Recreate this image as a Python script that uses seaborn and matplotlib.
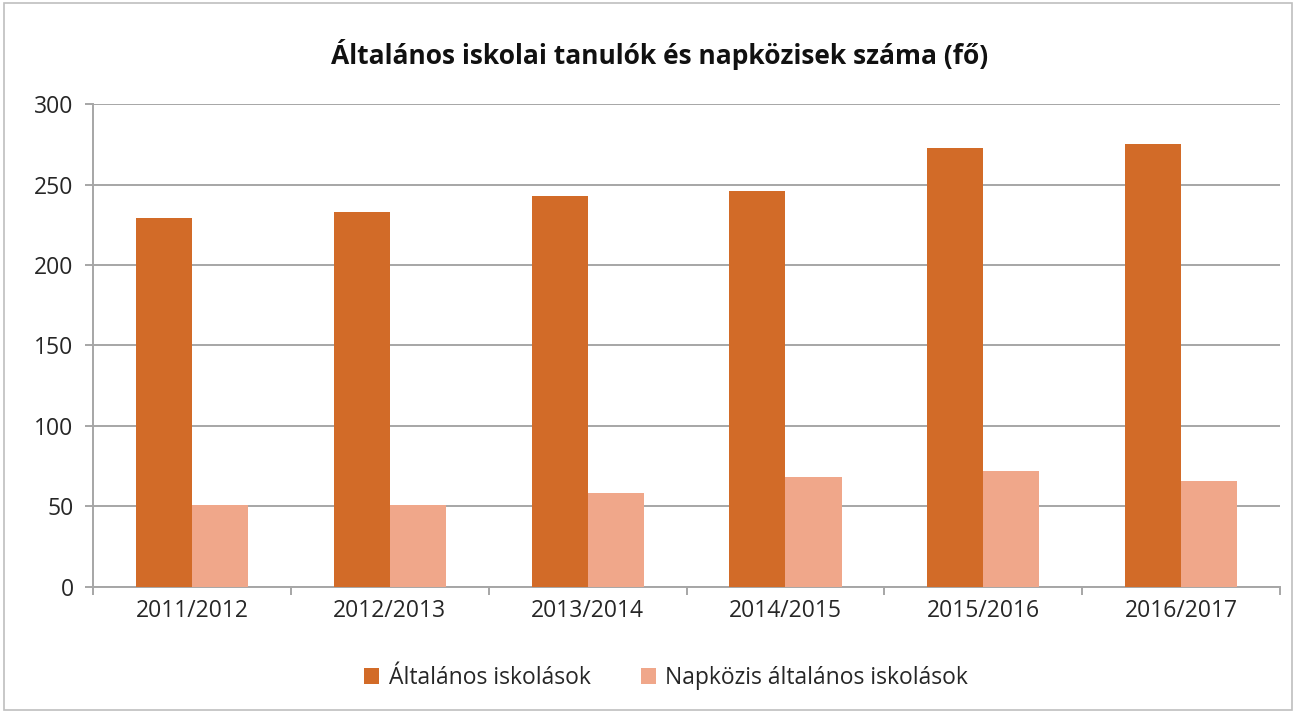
import pandas as pd
import seaborn as sns
import matplotlib.pyplot as plt
from matplotlib.patches import Rectangle

# Data
evek = ["2011/2012", "2012/2013", "2013/2014", "2014/2015", "2015/2016", "2016/2017"]
altalanos = [229, 233, 243, 246, 273, 275]
napkozis = [51, 51, 58, 68, 72, 66]
sorozatok = ["Általános iskolások", "Napközis általános iskolások"]

df = pd.DataFrame({
    "ev": evek * 2,
    "fo": altalanos + napkozis,
    "sorozat": [sorozatok[0]] * len(evek) + [sorozatok[1]] * len(evek),
})

sns.set_theme(style="white")
plt.rcParams["font.family"] = ["Open Sans", "DejaVu Sans"]

fig = plt.figure(figsize=(12.96, 7.13), dpi=100)
ax = fig.add_axes([0.0718, 0.177, 0.9159, 0.677])

colors = ["#D26B28", "#F0A78A"]
sns.barplot(data=df, x="ev", y="fo", hue="sorozat", palette=colors,
            width=0.567, saturation=1, ax=ax, zorder=3, linewidth=0)

ax.set_ylim(0, 300)
ax.set_yticks(range(0, 301, 50))
ax.set_xlim(-0.5, len(evek) - 0.5)
ax.yaxis.grid(True, color="#A6A6A6", linewidth=1.4, zorder=0)
ax.set_axisbelow(True)
ax.set_xlabel("")
ax.set_ylabel("")

for s in ["top", "right"]:
    ax.spines[s].set_visible(False)
for s in ["left", "bottom"]:
    ax.spines[s].set_color("#A6A6A6")
    ax.spines[s].set_linewidth(1.4)

# category separator ticks on the x axis
ax.set_xticks(range(len(evek)))
ax.set_xticklabels(evek)
ax.set_xticks([i - 0.5 for i in range(len(evek) + 1)], minor=True)
ax.tick_params(axis="x", which="major", length=0, pad=9, labelsize=16.5, labelcolor="#262626")
ax.tick_params(axis="x", which="minor", bottom=True, length=6, color="#A6A6A6", width=1.4)
ax.tick_params(axis="y", left=True, length=6, color="#A6A6A6", width=1.4,
               labelsize=16.5, labelcolor="#262626", pad=8)

fig.text(0.509, 0.923, "Általános iskolai tanulók és napközisek száma (fő)",
         ha="center", va="center", fontsize=19, fontweight="bold", color="#111111")

handles, labels = ax.get_legend_handles_labels()
ax.legend_.remove()
fig.legend(handles, labels, loc="center", bbox_to_anchor=(0.514, 0.049), ncol=2,
           frameon=False, fontsize=16.5, handlelength=0.65, handleheight=0.65,
           columnspacing=2.2, handletextpad=0.4, labelcolor="#262626")

# outer chart border
fig.patches.append(Rectangle((0.003, 0.004), 0.994, 0.992, transform=fig.transFigure,
                             fill=False, edgecolor="#BFBFBF", linewidth=1.2))

fig.savefig("out.png", dpi=100, facecolor="white")
